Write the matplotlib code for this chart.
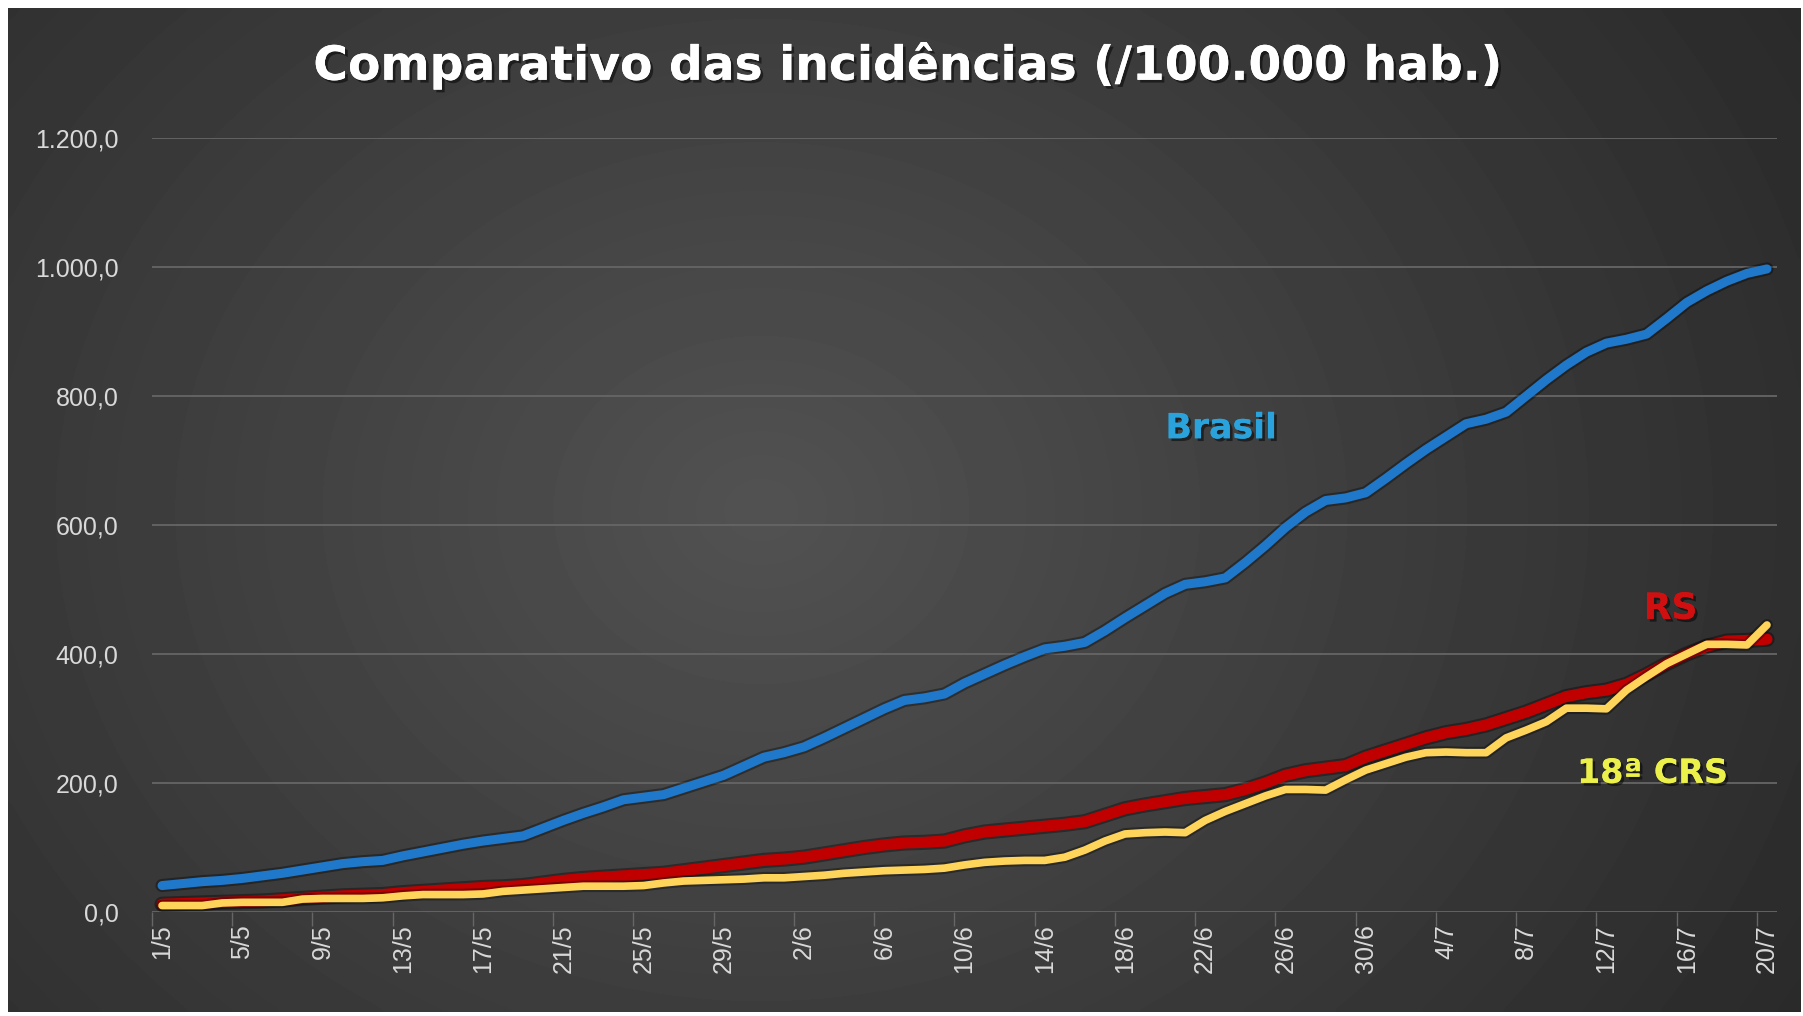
import numpy as np
import pandas as pd
import matplotlib
matplotlib.use('Agg')
import matplotlib.pyplot as plt
import matplotlib.patheffects as pe

# categories: daily dates 1/5 .. 20/7
dates = pd.date_range('2020-05-01', '2020-07-20')
labels = [f'{d.day}/{d.month}' for d in dates]

# incidence per 100.000 inhabitants
brasil = [41, 44, 47, 49, 52, 56, 60, 65, 70, 75, 78, 80, 87, 93, 99, 105, 110,
          114, 118, 130, 142, 153, 163, 174, 178, 182, 192, 202, 212, 226, 240,
          247, 256, 270, 285, 300, 315, 328, 332, 338, 355, 369, 383, 396, 408,
          412, 418, 436, 456, 475, 494, 508, 512, 518, 542, 568, 596, 620, 638,
          642, 650, 672, 695, 717, 737, 757, 764, 775, 800, 825, 848, 868, 882,
          888, 896, 920, 945, 963, 978, 990, 997]
rs = [12, 13, 14, 15, 16, 17, 19, 21, 23, 25, 26, 27, 30, 32, 34, 36, 38, 39,
      41, 45, 49, 52, 54, 56, 58, 60, 64, 68, 72, 76, 80, 82, 85, 90, 95, 100,
      104, 107, 108, 110, 118, 124, 127, 130, 133, 136, 140, 150, 160, 166, 171,
      176, 179, 182, 190, 200, 212, 219, 223, 227, 240, 250, 260, 270, 278, 283,
      290, 300, 310, 322, 334, 340, 344, 353, 368, 385, 400, 412, 420, 421, 423]
crs18 = [10, 10, 10, 14, 15, 15, 15, 20, 21, 21, 21, 22, 25, 27, 27, 27, 28,
         32, 34, 36, 38, 40, 40, 40, 41, 45, 48, 49, 50, 51, 53, 53, 55, 57, 60,
         62, 64, 65, 66, 68, 73, 77, 79, 80, 80, 85, 96, 110, 121, 123, 124, 123,
         142, 156, 168, 180, 190, 190, 189, 205, 220, 230, 240, 247, 248, 247,
         247, 270, 282, 295, 316, 316, 315, 344, 365, 385, 400, 415, 415, 414, 445]

yticks = [0, 200, 400, 600, 800, 1000, 1200]

W, H = 1803, 1016
fig = plt.figure(figsize=(W / 100, H / 100), dpi=100, facecolor='white')

# dark gradient background, lighter towards the centre-left
bg = fig.add_axes([8 / W, 4 / H, 1793 / W, 1004 / H])
yy, xx = np.mgrid[0:1:200j, 0:1:360j]
r = np.sqrt(((xx - 0.42) / 0.8) ** 2 + ((yy - 0.5) / 1.2) ** 2)
shade = 36 + 46 * np.clip(1 - r, 0, 1) ** 1.1
bg.imshow(shade, cmap='gray', vmin=0, vmax=255, aspect='auto',
          extent=[0, 1, 0, 1], origin='lower', interpolation='bicubic')
bg.axis('off')

ax = fig.add_axes([152 / W, 104 / H, 1625 / W, 774 / H])
ax.patch.set_alpha(0)

x = np.arange(len(labels))
shadow = lambda w: [pe.Stroke(linewidth=w + 3, foreground='black', alpha=0.35), pe.Normal()]
ax.plot(x, brasil, color='#1f78c9', lw=6.5, solid_capstyle='round', path_effects=shadow(6.5))
ax.plot(x, rs, color='#c00000', lw=8, solid_capstyle='round', path_effects=shadow(8))
ax.plot(x, crs18, color='#ffd45a', lw=5.5, solid_capstyle='round', path_effects=shadow(5.5))

ax.set_xlim(-0.5, len(labels) - 0.5)
ax.set_ylim(0, 1200)
ax.set_yticks(yticks)
ax.set_yticklabels([f'{v:,.1f}'.replace(',', 'X').replace('.', ',').replace('X', '.') for v in yticks])
ax.set_xticks(x[::4])
ax.set_xticklabels(labels[::4], rotation=90)
ax.set_xticks(x[::4] - 0.5, minor=True)

ax.tick_params(axis='x', which='major', length=0, pad=9, labelcolor='#d9d9d9', labelsize=18)
ax.tick_params(axis='x', which='minor', length=10, width=1, color='#666666')
ax.tick_params(axis='y', length=0, pad=24, labelcolor='#d9d9d9', labelsize=18)
for t in ax.get_xticklabels() + ax.get_yticklabels():
    t.set_fontfamily('Liberation Sans')

ax.grid(axis='y', color='#666666', lw=1.3)
ax.set_axisbelow(True)
for s in ax.spines.values():
    s.set_visible(False)

txt_shadow = [pe.withSimplePatchShadow(offset=(2, -2), shadow_rgbFace='black', alpha=0.5), pe.Normal()]
fig.text(0.504, 0.935, 'Comparativo das incidências (/100.000 hab.)', ha='center', va='center',
         fontsize=34, weight='bold', color='white', path_effects=txt_shadow)
ax.text(52.8, 750, 'Brasil', color='#2aa3dc', fontsize=25, weight='bold',
        ha='center', va='center', path_effects=txt_shadow)
ax.text(75.2, 470, 'RS', color='#d01010', fontsize=26, weight='bold',
        ha='center', va='center', path_effects=txt_shadow)
ax.text(74.3, 215, '18ª CRS', color='#ecf04a', fontsize=24, weight='bold',
        ha='center', va='center', path_effects=txt_shadow)

fig.savefig('out.png', dpi=100, facecolor='white')
